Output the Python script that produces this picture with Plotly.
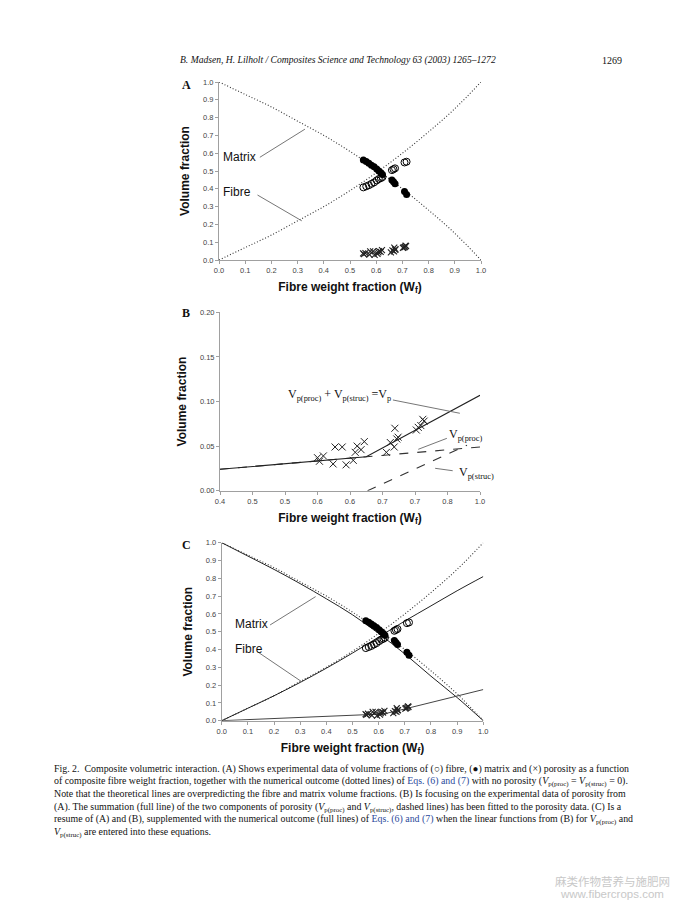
import plotly.graph_objects as go

# ---------------- data ----------------
# theoretical curves (panels A and C)
W_grid = [0.0, 0.1, 0.2, 0.3, 0.4, 0.5, 0.6, 0.7, 0.8, 0.9, 1.0]
Vf_dotted = [0.0, 0.07, 0.14, 0.22, 0.30, 0.39, 0.49, 0.60, 0.72, 0.85, 1.0]
Vm_dotted = [1.0, 0.93, 0.86, 0.78, 0.70, 0.61, 0.51, 0.40, 0.28, 0.15, 0.0]
Vf_full = [0.0, 0.07, 0.14, 0.215, 0.295, 0.38, 0.47, 0.56, 0.645, 0.73, 0.81]
Vm_full = [1.0, 0.925, 0.85, 0.77, 0.685, 0.595, 0.49, 0.375, 0.25, 0.13, 0.0]
W_por_full = [0.0, 0.2, 0.4, 0.62, 0.7, 0.8, 0.9, 1.0]
Vp_full = [0.0, 0.012, 0.025, 0.038, 0.066, 0.102, 0.138, 0.175]

# experimental data
W_circ = [0.551, 0.562, 0.572, 0.582, 0.592, 0.602, 0.610, 0.618, 0.624,
          0.660, 0.666, 0.672, 0.708, 0.716]
Vf_exp = [0.408, 0.414, 0.420, 0.428, 0.436, 0.447, 0.455, 0.460, 0.466,
          0.505, 0.510, 0.515, 0.548, 0.552]
Vm_exp = [0.562, 0.553, 0.543, 0.533, 0.524, 0.511, 0.500, 0.490, 0.480,
          0.450, 0.440, 0.428, 0.385, 0.368]
W_por = [0.550, 0.553, 0.559, 0.574, 0.577, 0.588, 0.594, 0.605, 0.608, 0.611,
         0.617, 0.622, 0.656, 0.662, 0.668, 0.669, 0.672, 0.674, 0.702, 0.705,
         0.709, 0.712, 0.714]
Vp_exp = [0.037, 0.033, 0.039, 0.030, 0.049, 0.049, 0.029, 0.034, 0.043, 0.050,
          0.046, 0.055, 0.043, 0.054, 0.049, 0.070, 0.058, 0.060, 0.068, 0.071,
          0.073, 0.080, 0.078]

# panel B fitted lines
W_proc = [0.4, 0.8]
Vp_proc = [0.024, 0.049]
W_struc = [0.627, 0.78]
Vp_struc = [0.0, 0.051]
W_sum = [0.4, 0.625, 0.8]
Vp_sum = [0.024, 0.038, 0.107]

A_ticks = [0.0, 0.1, 0.2, 0.3, 0.4, 0.5, 0.6, 0.7, 0.8, 0.9, 1.0]
A_ticktext = ["0.0", "0.1", "0.2", "0.3", "0.4", "0.5", "0.6", "0.7", "0.8", "0.9", "1.0"]
B_xticks = [0.40, 0.45, 0.50, 0.55, 0.60, 0.65, 0.70, 0.75, 0.80]
B_xticktext = ["0.4", "0.5", "0.5", "0.6", "0.6", "0.7", "0.7", "0.8", "1.0"]
B_yticks = [0.0, 0.05, 0.10, 0.15, 0.20]
B_yticktext = ["0.00", "0.05", "0.10", "0.15", "0.20"]

# the page body has an 8px margin, so the figure is placed at (8, 8)
OFF = 8
W, H = 670, 897
def px(X):
    return (X - OFF) / W
def py(Y):
    return 1 - (Y - OFF) / H

fig = go.Figure()

DOT = dict(color="#333", width=1.1, dash="1px,2px")
SOL = dict(color="#222", width=1)
open_m = dict(symbol="circle-open", size=7, color="black", line=dict(width=1, color="black"))
fill_m = dict(symbol="circle", size=7, color="black")
x_m = dict(symbol="x-thin-open", size=6, color="#222", line=dict(width=1.1, color="#222"))

def panel(xa, ya, full):
    fig.add_trace(go.Scatter(x=W_grid, y=Vm_dotted, mode="lines", line=DOT, line_shape="spline", xaxis=xa, yaxis=ya, showlegend=False))
    fig.add_trace(go.Scatter(x=W_grid, y=Vf_dotted, mode="lines", line=DOT, line_shape="spline", xaxis=xa, yaxis=ya, showlegend=False))
    if full:
        fig.add_trace(go.Scatter(x=W_grid, y=Vm_full, mode="lines", line=SOL, line_shape="spline", xaxis=xa, yaxis=ya, showlegend=False))
        fig.add_trace(go.Scatter(x=W_grid, y=Vf_full, mode="lines", line=SOL, line_shape="spline", xaxis=xa, yaxis=ya, showlegend=False))
        fig.add_trace(go.Scatter(x=W_por_full, y=Vp_full, mode="lines", line=dict(color="#444", width=1), xaxis=xa, yaxis=ya, showlegend=False))
    fig.add_trace(go.Scatter(x=W_circ, y=Vf_exp, mode="markers", marker=open_m, xaxis=xa, yaxis=ya, showlegend=False))
    fig.add_trace(go.Scatter(x=W_circ, y=Vm_exp, mode="markers", marker=fill_m, xaxis=xa, yaxis=ya, showlegend=False))
    fig.add_trace(go.Scatter(x=W_por, y=Vp_exp, mode="markers", marker=x_m, xaxis=xa, yaxis=ya, showlegend=False))

panel("x", "y", False)
panel("x3", "y3", True)

# panel B
DASH = dict(color="#333", width=1.1, dash="dash")
fig.add_trace(go.Scatter(x=W_proc, y=Vp_proc, mode="lines", line=DASH, xaxis="x2", yaxis="y2", showlegend=False))
fig.add_trace(go.Scatter(x=W_struc, y=Vp_struc, mode="lines", line=DASH, xaxis="x2", yaxis="y2", showlegend=False))
fig.add_trace(go.Scatter(x=W_sum, y=Vp_sum, mode="lines", line=dict(color="#222", width=1.1), xaxis="x2", yaxis="y2", showlegend=False))
fig.add_trace(go.Scatter(x=W_por, y=Vp_exp, mode="markers",
                         marker=dict(symbol="x-thin-open", size=7, color="#222", line=dict(width=1, color="#222")),
                         xaxis="x2", yaxis="y2", showlegend=False))

tickfont = dict(family="Liberation Sans", size=7.5, color="#444")
titlefont = dict(family="Liberation Sans", size=12, color="#111", weight="bold")
def ax(domain, rng, tv, tt, title, standoff):
    return dict(domain=domain, range=rng, tickvals=tv, ticktext=tt,
                showline=True, linecolor="#a0a0a0", linewidth=1, ticks="outside",
                ticklen=3, tickcolor="#a0a0a0", showgrid=False, zeroline=False,
                tickfont=tickfont, automargin=False,
                title=dict(text=title, font=titlefont, standoff=standoff))

XT = "Fibre weight fraction (W<sub>f</sub>)"
YT = "Volume fraction"
fig.update_layout(
    width=W, height=H, margin=dict(l=0, r=0, t=0, b=0),
    paper_bgcolor="white", plot_bgcolor="white",
    xaxis=ax([px(219), px(481)], [0, 1], A_ticks, A_ticktext, XT, 8),
    yaxis=ax([py(260), py(82)], [0, 1], A_ticks, A_ticktext, YT, 10),
    xaxis2=ax([px(220), px(480)], [0.4, 0.8], B_xticks, B_xticktext, XT, 8),
    yaxis2=ax([py(490.7), py(312.3)], [0, 0.2], B_yticks, B_yticktext, YT, 10),
    xaxis3=ax([px(221.7), px(483.3)], [0, 1], A_ticks, A_ticktext, XT, 8),
    yaxis3=ax([py(720.7), py(542.7)], [0, 1], A_ticks, A_ticktext, YT, 10),
)
fig.layout.xaxis2.anchor = "y2"
fig.layout.yaxis2.anchor = "x2"
fig.layout.xaxis3.anchor = "y3"
fig.layout.yaxis3.anchor = "x3"

LEAD = dict(color="#666", width=0.9)
# leader lines
for xr, yr, x0, y0, x1, y1 in [
    ("x", "y", 0.156, 0.577, 0.328, 0.735),
    ("x", "y", 0.147, 0.365, 0.316, 0.220),
    ("x3", "y3", 0.185, 0.538, 0.359, 0.697),
    ("x3", "y3", 0.136, 0.388, 0.306, 0.219),
    ("x2", "y2", 0.666, 0.1017, 0.769, 0.0868),
    ("x2", "y2", 0.749, 0.0587, 0.705, 0.0464),
    ("x2", "y2", 0.758, 0.0224, 0.731, 0.0251),
]:
    fig.add_shape(type="line", xref=xr, yref=yr, x0=x0, y0=y0, x1=x1, y1=y1, line=LEAD)

lab = dict(family="Liberation Sans", size=12, color="#111")
ser = dict(family="Liberation Serif", size=12, color="#111")
ann = [
    dict(xref="x", yref="y", x=0.08, y=0.58, text="Matrix", font=lab),
    dict(xref="x", yref="y", x=0.07, y=0.38, text="Fibre", font=lab),
    dict(xref="x3", yref="y3", x=0.114, y=0.543, text="Matrix", font=lab),
    dict(xref="x3", yref="y3", x=0.105, y=0.403, text="Fibre", font=lab),
    dict(xref="x2", yref="y2", x=0.584, y=0.107,
         text="V<sub>p(proc)</sub> + V<sub>p(struc)</sub> =V<sub>p</sub>", font=ser),
    dict(xref="x2", yref="y2", x=0.779, y=0.0625, text="V<sub>p(proc)</sub>", font=ser),
    dict(xref="x2", yref="y2", x=0.794, y=0.0199, text="V<sub>p(struc)</sub>", font=ser),
]
# page texts
pf = dict(family="Liberation Serif", size=9.6, color="#111")
ann += [
    dict(xref="paper", yref="paper", x=px(338), y=py(60),
         text="<i>B. Madsen, H. Lilholt / Composites Science and Technology 63 (2003) 1265–1272</i>", font=pf),
    dict(xref="paper", yref="paper", x=px(624), y=py(60), xanchor="right", text="1269",
         font=dict(family="Liberation Serif", size=10, color="#111")),
    dict(xref="paper", yref="paper", x=px(186), y=py(85), text="<b>A</b>", font=dict(family="Liberation Serif", size=12, color="#111")),
    dict(xref="paper", yref="paper", x=px(186), y=py(313), text="<b>B</b>", font=dict(family="Liberation Serif", size=12, color="#111")),
    dict(xref="paper", yref="paper", x=px(186), y=py(545), text="<b>C</b>", font=dict(family="Liberation Serif", size=12, color="#111")),
]
EQ = '<span style="color:#2b4a9b">Eqs. (6) and (7)</span>'
caption = [
    "Fig. 2.  Composite volumetric interaction. (A) Shows experimental data of volume fractions of (○) fibre, (●) matrix and (×) porosity as a function",
    "of composite fibre weight fraction, together with the numerical outcome (dotted lines) of " + EQ + " with no porosity (<i>V</i><sub>p(proc)</sub> = <i>V</i><sub>p(struc)</sub> = 0).",
    "Note that the theoretical lines are overpredicting the fibre and matrix volume fractions. (B) Is focusing on the experimental data of porosity from",
    "(A). The summation (full line) of the two components of porosity (<i>V</i><sub>p(proc)</sub> and <i>V</i><sub>p(struc)</sub>, dashed lines) has been fitted to the porosity data. (C) Is a",
    "resume of (A) and (B), supplemented with the numerical outcome (full lines) of " + EQ + " when the linear functions from (B) for <i>V</i><sub>p(proc)</sub> and",
    "<i>V</i><sub>p(struc)</sub> are entered into these equations.",
]
cf = dict(family="Liberation Serif", size=9.9, color="#111")
for i, line in enumerate(caption):
    ann.append(dict(xref="paper", yref="paper", x=px(52), y=py(769 + 12.7 * i), xanchor="left",
                    text=line, font=cf))
wm = dict(size=11.5, color="#c8c8c8")
ann += [
    dict(xref="paper", yref="paper", x=px(612), y=py(881), text="麻类作物营养与施肥网",
         font=dict(family="Noto Sans CJK SC", **wm)),
    dict(xref="paper", yref="paper", x=px(612), y=py(894), text="www.fibercrops.com",
         font=dict(family="Liberation Sans", **wm)),
]
for a in ann:
    a.setdefault("showarrow", False)
    a.setdefault("xanchor", "center")
    a.setdefault("yanchor", "middle")
fig.update_layout(annotations=ann)

fig.write_html("out.html")
